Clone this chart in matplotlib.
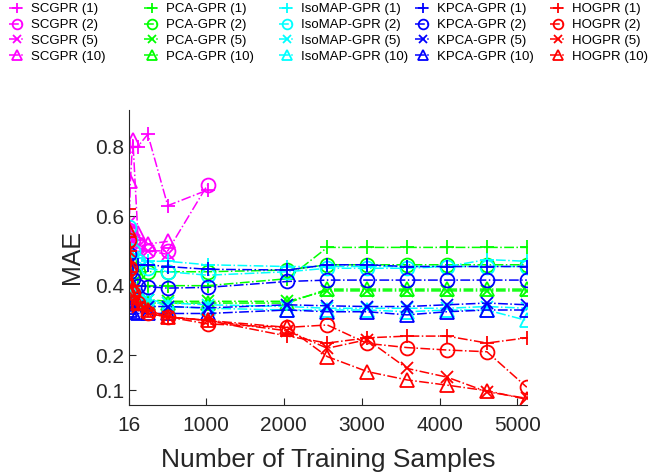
import matplotlib
matplotlib.use("Agg")
import matplotlib.pyplot as plt

plt.rcParams['font.family'] = ['Liberation Sans', 'DejaVu Sans']

# training set sizes
samples = [16, 32, 64, 128, 256, 512, 1024, 2048, 2560, 3072, 3584, 4096, 4608, 5120]
y_ticks = [0.1, 0.2, 0.4, 0.6, 0.8]
x_ticks = [16, 1000, 2000, 3000, 4000, 5000]

methods = ['SCGPR', 'PCA-GPR', 'IsoMAP-GPR', 'KPCA-GPR', 'HOGPR']
settings = ['1', '2', '5', '10']

# MAE per method, one list per setting (1, 2, 5, 10)
scgpr = [
    [0.80, 0.80, 0.80, 0.80, 0.835, 0.63, 0.675],
    [0.56, 0.55, 0.53, 0.52, 0.50, 0.50, 0.69],
    [0.58, 0.56, 0.53, 0.51, 0.50, 0.49],
    [0.56, 0.70, 0.82, 0.55, 0.52, 0.527],
]
pca_gpr = [
    [0.41, 0.40, 0.40, 0.40, 0.40, 0.40, 0.40, 0.42, 0.51, 0.51, 0.51, 0.51, 0.51, 0.51],
    [0.47, 0.45, 0.44, 0.44, 0.44, 0.44, 0.44, 0.445, 0.46, 0.46, 0.46, 0.46, 0.46, 0.46],
    [0.38, 0.37, 0.36, 0.36, 0.36, 0.355, 0.355, 0.355, 0.385, 0.385, 0.385, 0.385, 0.385, 0.385],
    [0.37, 0.36, 0.355, 0.35, 0.35, 0.35, 0.35, 0.35, 0.39, 0.39, 0.39, 0.39, 0.39, 0.39],
]
isomap_gpr = [
    [0.50, 0.49, 0.48, 0.48, 0.47, 0.47, 0.46, 0.455, 0.455, 0.455, 0.455, 0.455, 0.475, 0.47],
    [0.57, 0.53, 0.50, 0.47, 0.45, 0.44, 0.43, 0.44, 0.45, 0.45, 0.45, 0.455, 0.455, 0.455],
    [0.42, 0.40, 0.38, 0.37, 0.36, 0.35, 0.345, 0.34, 0.335, 0.335, 0.335, 0.335, 0.34, 0.335],
    [0.45, 0.42, 0.40, 0.38, 0.36, 0.34, 0.335, 0.33, 0.33, 0.33, 0.325, 0.33, 0.33, 0.30],
]
kpca_gpr = [
    [0.46, 0.46, 0.46, 0.46, 0.46, 0.455, 0.447, 0.445, 0.46, 0.46, 0.455, 0.455, 0.455, 0.455],
    [0.49, 0.44, 0.42, 0.40, 0.397, 0.393, 0.395, 0.412, 0.416, 0.416, 0.416, 0.416, 0.416, 0.416],
    [0.36, 0.35, 0.345, 0.34, 0.34, 0.34, 0.336, 0.345, 0.342, 0.34, 0.34, 0.345, 0.35, 0.345],
    [0.34, 0.33, 0.325, 0.32, 0.32, 0.32, 0.32, 0.33, 0.325, 0.325, 0.316, 0.325, 0.33, 0.33],
]
hogpr = [
    [0.62, 0.50, 0.40, 0.35, 0.33, 0.31, 0.30, 0.255, 0.235, 0.25, 0.255, 0.255, 0.235, 0.25],
    [0.53, 0.45, 0.38, 0.35, 0.32, 0.31, 0.29, 0.28, 0.287, 0.234, 0.222, 0.215, 0.21, 0.108],
    [0.50, 0.42, 0.37, 0.34, 0.32, 0.31, 0.30, 0.27, 0.22, 0.245, 0.162, 0.137, 0.095, 0.076],
    [0.56, 0.46, 0.39, 0.35, 0.33, 0.31, 0.30, 0.28, 0.196, 0.153, 0.129, 0.114, 0.098, 0.073],
]

all_results = [scgpr, pca_gpr, isomap_gpr, kpca_gpr, hogpr]
colors = ['#ff00ff', '#00ff00', '#00ffff', '#0000ff', '#ff0000']
markers = ['+', 'o', 'x', '^']
marker_sizes = [10, 10, 8, 10]

fig = plt.figure(figsize=(6.52, 4.72), dpi=100)
ax = fig.add_axes([0.198, 0.142, 0.61, 0.625])

legend_handles = []
for name, results, color in zip(methods, all_results, colors):
    group = []
    for setting, mae, marker, ms in zip(settings, results, markers, marker_sizes):
        line, = ax.plot(samples[:len(mae)], mae, linestyle='-.', color=color,
                        marker=marker, markersize=ms, markerfacecolor='none',
                        markeredgewidth=1.3, linewidth=1.1,
                        label=f'{name} ({setting})')
        group.append(line)
    legend_handles.append(group)

ax.set_xlim(16, 5120)
ax.set_ylim(0.057, 0.905)
ax.set_xticks(x_ticks)
ax.set_yticks(y_ticks)
ax.set_yticklabels([f'{t:g}' for t in y_ticks])
ax.tick_params(direction='in', length=5, labelsize=15, colors='#262626', width=0.8)
ax.tick_params(axis='x', pad=8)
for side in ['top', 'right']:
    ax.spines[side].set_visible(False)
for side in ['left', 'bottom']:
    ax.spines[side].set_color('#262626')
    ax.spines[side].set_linewidth(0.8)
ax.set_xlabel('Number of Training Samples', fontsize=19, color='#262626', labelpad=9)
ax.set_ylabel('MAE', fontsize=18, color='#262626', labelpad=8)

col_x = [1, 136, 271, 407, 542]
for group, x0 in zip(legend_handles, col_x):
    fig.legend(handles=group, loc='upper left', bbox_to_anchor=(x0 / 652, 1.01),
               frameon=False, fontsize=9.5, handlelength=1.25, handletextpad=0.45,
               labelspacing=0.27, numpoints=1, borderaxespad=0.2, markerscale=0.7)

fig.savefig('out.png', dpi=100)
